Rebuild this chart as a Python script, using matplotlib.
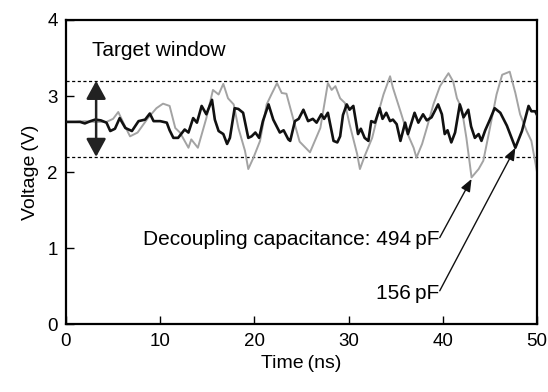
import matplotlib
matplotlib.use("Agg")
import matplotlib.pyplot as plt

plt.rcParams['font.family'] = ['Liberation Sans', 'DejaVu Sans']

# Gray trace (494 pF)
gray_t = [0, 1.0, 2.0, 3.0, 4.3, 5.0, 5.55, 6.2, 6.8, 7.6, 8.7, 9.6, 10.3, 11.0, 11.6,
          12.1, 13.0, 13.3, 14.0, 14.9, 15.6, 16.2, 16.7, 17.2, 17.8, 18.3, 19.0, 19.35,
          19.9, 20.6, 21.3, 21.8, 22.4, 22.9, 23.4, 24.1, 24.8, 25.9, 27.0, 27.8, 28.2,
          28.6, 29.1, 29.6, 30.1, 30.9, 31.2, 31.7, 32.5, 33.2, 33.7, 34.4, 34.7, 35.5,
          36.2, 36.9, 37.2, 37.8, 38.3, 39.0, 39.7, 40.6, 41.1, 41.5, 42.0, 42.5, 43.05,
          43.8, 44.3, 45.0, 45.7, 46.3, 47.1, 47.7, 48.2, 48.9, 49.4, 50.0]
gray_v = [2.66, 2.66, 2.67, 2.66, 2.66, 2.70, 2.79, 2.62, 2.47, 2.52, 2.71, 2.84, 2.90,
          2.87, 2.58, 2.52, 2.32, 2.43, 2.32, 2.71, 3.08, 3.02, 3.16, 2.97, 2.89, 2.58,
          2.28, 2.04, 2.19, 2.41, 2.89, 3.02, 3.17, 3.04, 3.03, 2.71, 2.40, 2.26, 2.58,
          3.17, 3.08, 3.13, 2.97, 2.91, 2.63, 2.24, 2.04, 2.21, 2.45, 2.80, 3.02, 3.26,
          3.11, 2.80, 2.52, 2.32, 2.19, 2.37, 2.58, 2.89, 3.13, 3.30, 3.19, 2.97, 2.84,
          2.45, 1.93, 2.04, 2.15, 2.58, 3.02, 3.28, 3.32, 3.04, 2.76, 2.54, 2.41, 2.00]

# Black trace (156 pF)
black_t = [0, 1.5, 2.0, 2.6, 3.1, 3.7, 4.3, 4.7, 5.2, 5.7, 6.3, 7.0, 7.7, 8.4, 8.9, 9.3,
           10.0, 10.7, 11.0, 11.4, 11.9, 12.6, 13.0, 13.5, 13.9, 14.4, 14.9, 15.5, 15.8,
           16.2, 16.7, 17.1, 17.4, 17.9, 18.3, 18.8, 19.35, 19.7, 20.1, 20.5, 20.9, 21.5,
           22.0, 22.7, 23.1, 23.6, 23.8, 24.3, 24.7, 25.2, 25.7, 26.2, 26.6, 27.1, 27.4,
           27.8, 28.4, 28.8, 29.1, 29.4, 29.8, 30.1, 30.5, 31.0, 31.3, 31.7, 32.1, 32.4,
           32.8, 33.3, 33.6, 34.0, 34.4, 34.7, 35.1, 35.5, 36.0, 36.3, 37.0, 37.4, 37.9,
           38.3, 38.8, 39.5, 39.9, 40.2, 40.5, 40.9, 41.3, 41.8, 42.2, 42.7, 43.0, 43.4,
           43.8, 44.1, 44.5, 45.0, 45.5, 46.1, 46.8, 47.7, 48.4, 49.1, 49.4, 49.8, 50.0]
black_v = [2.66, 2.66, 2.64, 2.67, 2.69, 2.68, 2.65, 2.54, 2.57, 2.71, 2.58, 2.54, 2.67,
           2.69, 2.77, 2.67, 2.67, 2.65, 2.55, 2.45, 2.45, 2.56, 2.52, 2.71, 2.65, 2.87,
           2.76, 2.95, 2.69, 2.54, 2.50, 2.37, 2.45, 2.84, 2.83, 2.78, 2.45, 2.47, 2.52,
           2.45, 2.67, 2.89, 2.69, 2.52, 2.55, 2.43, 2.41, 2.67, 2.70, 2.82, 2.67, 2.70,
           2.65, 2.76, 2.70, 2.78, 2.41, 2.39, 2.47, 2.75, 2.89, 2.82, 2.87, 2.50, 2.57,
           2.45, 2.41, 2.67, 2.65, 2.84, 2.70, 2.78, 2.67, 2.69, 2.63, 2.41, 2.65, 2.50,
           2.78, 2.65, 2.76, 2.68, 2.72, 2.89, 2.76, 2.50, 2.55, 2.39, 2.52, 2.89, 2.72,
           2.82, 2.60, 2.45, 2.50, 2.41, 2.55, 2.69, 2.84, 2.78, 2.61, 2.32, 2.54, 2.87,
           2.80, 2.80, 2.75]

window_low, window_high = 2.2, 3.2
x_ticks = [0, 10, 20, 30, 40, 50]
y_ticks = [0, 1, 2, 3, 4]

fig = plt.figure(figsize=(5.48, 3.92), dpi=100)
ax = fig.add_axes([0.1204, 0.173, 0.8596, 0.776])

ax.plot(gray_t, gray_v, color='#a3a3a3', lw=1.4, zorder=2)
ax.plot(black_t, black_v, color='#111111', lw=1.9, zorder=3)

ax.axhline(window_high, color='black', lw=0.9, ls=(0, (2.5, 2)), zorder=1)
ax.axhline(window_low, color='black', lw=0.9, ls=(0, (2.5, 2)), zorder=1)

ax.annotate('', xy=(3.2, window_high), xytext=(3.2, window_low),
            arrowprops=dict(arrowstyle='<|-|>,head_length=1.1,head_width=0.6',
                            color='#222222', lw=1.8, shrinkA=0, shrinkB=0), zorder=4)
ax.text(2.8, 3.6, 'Target window', fontsize=15, ha='left', va='center')

arrow_kw = dict(arrowstyle='-|>,head_length=0.5,head_width=0.2', color='#111111',
                lw=1.0, shrinkA=1, shrinkB=0, relpos=(1.0, 0.55), patchA=None)
ax.annotate('Decoupling capacitance: 494\u2009pF', xy=(43.05, 1.91), xytext=(39.6, 1.11),
            fontsize=15, ha='right', va='center', arrowprops=arrow_kw)
ax.annotate('156\u2009pF', xy=(47.7, 2.32), xytext=(39.6, 0.41),
            fontsize=15, ha='right', va='center', arrowprops=arrow_kw)

ax.set_xlim(0, 50)
ax.set_ylim(0, 4)
ax.set_xticks(x_ticks)
ax.set_yticks(y_ticks)
ax.tick_params(direction='in', length=6, width=1, labelsize=13.5, pad=6)
for s in ax.spines.values():
    s.set_linewidth(1.6)
ax.set_xlabel('Time\u2009(ns)', fontsize=14, labelpad=4)
ax.set_ylabel('Voltage\u2009(V)', fontsize=14, labelpad=6)

fig.savefig('out.png', dpi=100)
